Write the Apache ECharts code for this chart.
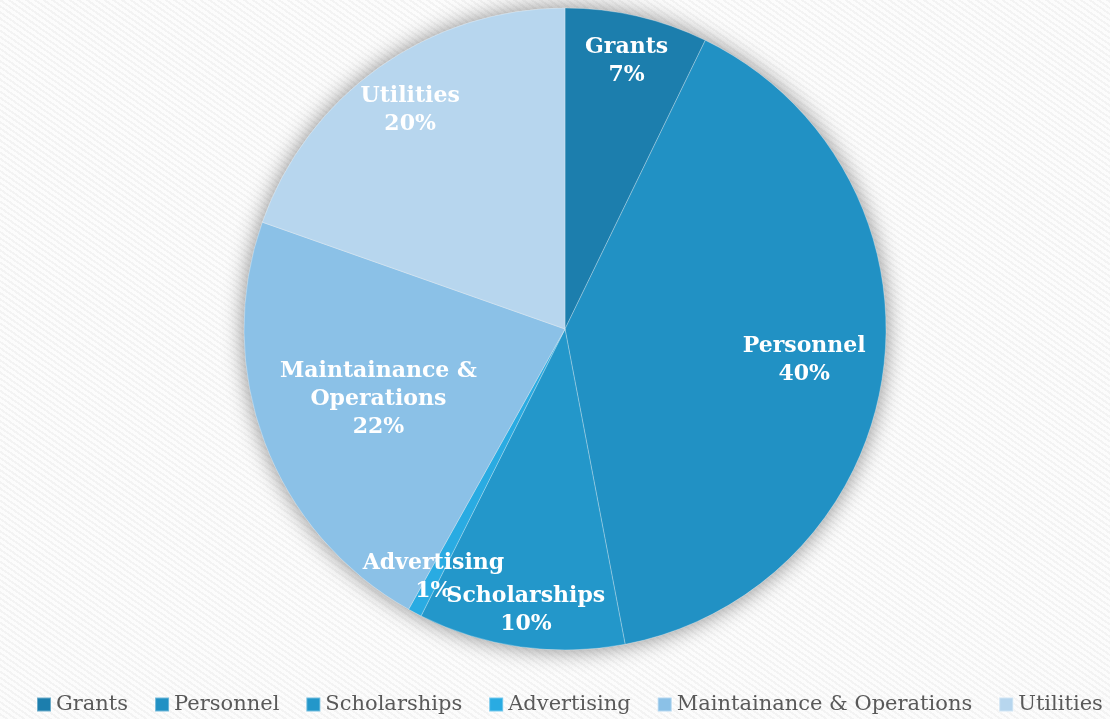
<!DOCTYPE html>
<html><head><meta charset="utf-8">
<script src="https://cdn.jsdelivr.net/npm/echarts@6/dist/echarts.min.js"></script>
<style>
html,body{margin:0;padding:0;}
body{width:1110px;height:719px;background:#fbfbfb repeating-linear-gradient(35deg,#fcfcfc 0px,#fcfcfc 3px,#f3f3f3 3px,#f3f3f3 5px);}
#c{width:1110px;height:719px;}
</style></head>
<body><div id="c"></div>
<script>
var categories = ['Grants','Personnel','Scholarships','Advertising','Maintainance & Operations','Utilities'];
var labelNames = ['Grants','Personnel','Scholarships','Advertising','Maintainance &\nOperations','Utilities'];
var values = [7.2, 39.8, 10.4, 0.7, 22.3, 19.6];

var colors = ['#1c7ead','#2191c4','#2397ca','#29abe2','#8bc1e7','#b7d6ee'];
var labelRadius = [0.84, 0.738, 0.868, 0.86, 0.61, 0.82];
var CX = 565, CY = 329, R = 321;

var chart = echarts.init(document.getElementById('c'), null, {renderer:'canvas'});
var data = categories.map(function(n,i){
  return {name:n, value:values[i], itemStyle:{color:colors[i]}};
});
chart.setOption({
  backgroundColor:'transparent',
  animation:false,
  legend:{
    data:categories,
    left:31, top:689, width:1079,
    itemWidth:14, itemHeight:14, itemGap:26,
    icon:'rect',
    textStyle:{fontFamily:'DejaVu Serif', fontSize:21, color:'#595959'}
  },
  series:[
    {
      type:'pie', silent:true, center:[CX,CY], radius:R, z:1,
      label:{show:false}, labelLine:{show:false},
      itemStyle:{color:'#cfcfcf', shadowBlur:22, shadowColor:'rgba(0,0,0,0.45)'},
      data:[{name:'__bg', value:1}]
    },
    {
      type:'pie', center:[CX,CY], radius:R, startAngle:90, clockwise:true, z:2,
      avoidLabelOverlap:false,
      itemStyle:{borderColor:'rgba(255,255,255,0.35)', borderWidth:0.8},
      label:{
        show:true, position:'inside',
        formatter:function(p){ return labelNames[p.dataIndex] + '\n' + Math.round(p.percent) + '%'; },
        fontFamily:'DejaVu Serif', fontWeight:'bold', fontSize:22, lineHeight:28, color:'#ffffff'
      },
      labelLine:{show:false},
      labelLayout:function(p){
        var k = labelRadius[p.dataIndex];
        var r = p.labelRect;
        var lx = r.x + r.width/2, ly = r.y + r.height/2;
        return {x: CX + (lx - CX) * k / 0.5, y: CY + (ly - CY) * k / 0.5};
      },
      data:data
    }
  ]
});
</script></body></html>
